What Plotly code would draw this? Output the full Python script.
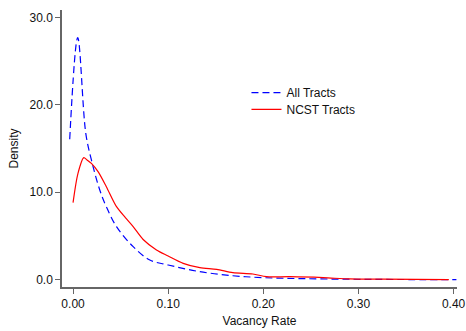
import plotly.graph_objects as go

# Kernel density estimates of tract vacancy rates
all_x = [-0.0035, 0.0049, 0.0134, 0.0193, 0.0281, 0.035, 0.0457, 0.0632, 0.0807,
         0.100, 0.133, 0.168, 0.200, 0.240, 0.290, 0.340, 0.403]
all_y = [16.06, 27.7, 16.75, 13.7, 10.26, 8.35, 6.07, 3.78, 2.25,
         1.68, 0.92, 0.45, 0.23, 0.12, 0.05, 0.02, 0.0]

ncst_x = [0.0, 0.0052, 0.0113, 0.0147, 0.0193, 0.0263, 0.035, 0.0457, 0.055, 0.0632,
          0.0737, 0.0877, 0.100, 0.1158, 0.1333, 0.151, 0.168, 0.189, 0.2035, 0.228,
          0.263, 0.291, 0.326, 0.395]
ncst_y = [8.81, 12.17, 13.96, 13.7, 13.3, 12.36, 10.64, 8.35, 7.1, 6.07,
          4.6, 3.4, 2.71, 1.87, 1.37, 1.18, 0.80, 0.65, 0.34, 0.34,
          0.23, 0.08, 0.05, 0.0]

x_ticks = [0.0, 0.1, 0.2, 0.3, 0.4]
x_tick_labels = ["0.00", "0.10", "0.20", "0.30", "0.40"]
y_ticks = [0, 10, 20, 30]
y_tick_labels = ["0.0", "10.0", "20.0", "30.0"]

FONT = "Liberation Sans, Arial, sans-serif"
AXIS_COLOR = "#666666"

fig = go.Figure()
fig.add_trace(go.Scatter(
    x=all_x, y=all_y, mode="lines", name="All Tracts", line_shape="spline",
    line=dict(color="#0000ff", width=1.2, dash="7px,4px"), legend="legend",
))
fig.add_trace(go.Scatter(
    x=ncst_x, y=ncst_y, mode="lines", name="NCST Tracts", line_shape="spline",
    line=dict(color="#ff0000", width=1.2, smoothing=0.8), legend="legend2",
))

legend_common = dict(
    xanchor="left", yanchor="middle", bgcolor="rgba(0,0,0,0)",
    font=dict(family=FONT, size=12, color="#111111"),
    borderwidth=0, itemwidth=30,
)

fig.update_layout(
    width=466, height=331,
    margin=dict(l=62, r=9, t=10, b=44, autoexpand=False),
    paper_bgcolor="white", plot_bgcolor="white",
    font=dict(family=FONT, size=12, color="#111111"),
    showlegend=True,
    legend=dict(x=0.467, y=0.7015, **legend_common),
    legend2=dict(x=0.467, y=0.6415, **legend_common),
    xaxis=dict(
        range=[-0.0116, 0.4036], tickvals=x_ticks, ticktext=x_tick_labels,
        showgrid=False, zeroline=False, showline=True, linecolor=AXIS_COLOR, linewidth=1.5,
        ticks="outside", ticklen=5, tickcolor=AXIS_COLOR, tickwidth=1,
        tickfont=dict(size=12, color="#111111"),
        title=dict(text="Vacancy Rate", font=dict(size=12), standoff=6),
        automargin=False,
    ),
    yaxis=dict(
        range=[-0.84, 30.86], tickvals=y_ticks, ticktext=y_tick_labels,
        showgrid=False, zeroline=False, showline=True, linecolor=AXIS_COLOR, linewidth=1.5,
        ticks="outside", ticklen=5, tickcolor=AXIS_COLOR, tickwidth=1,
        tickfont=dict(size=12, color="#111111"),
        title=dict(text="Density", font=dict(size=12), standoff=8),
        automargin=False,
    ),
)

fig.write_html("out.html")
